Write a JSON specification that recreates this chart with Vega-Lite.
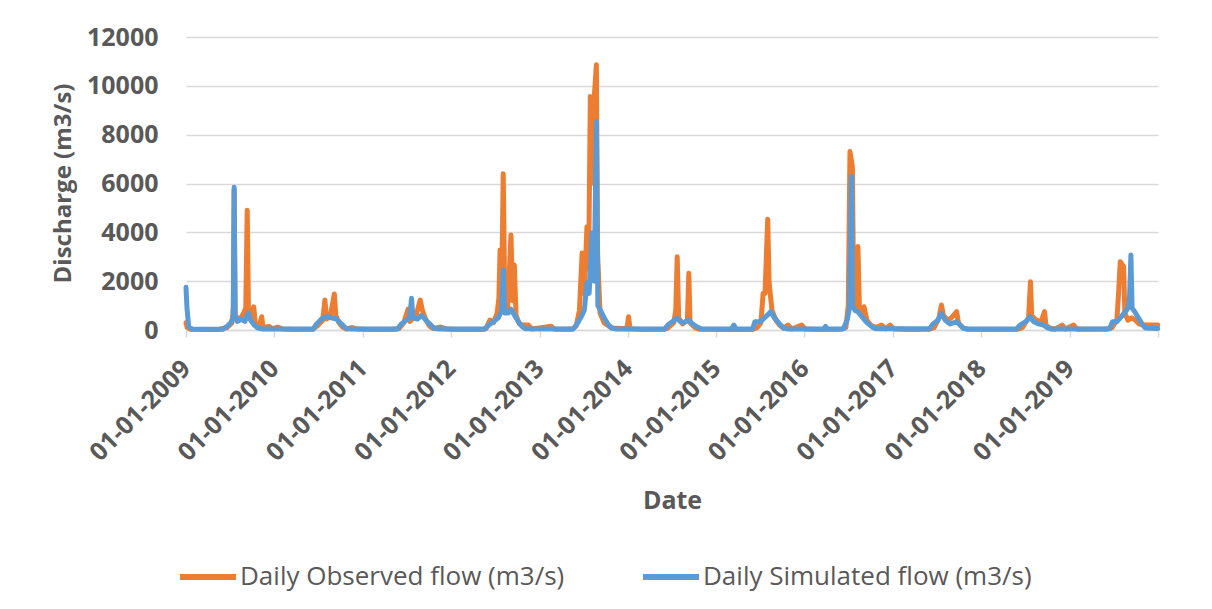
{
  "$schema": "https://vega.github.io/schema/vega-lite/v6.json",
  "width": 972,
  "height": 293,
  "autosize": {"type": "none"},
  "padding": {"left": 186, "top": 37, "right": 54, "bottom": 279},
  "background": "white",
  "datasets": {
    "obs": [
      {"d":"2009-01-01","q":300},{"d":"2009-01-06","q":100},{"d":"2009-01-20","q":30},{"d":"2009-03-01","q":20},{"d":"2009-05-15","q":20},{"d":"2009-06-20","q":100},{"d":"2009-07-10","q":300},{"d":"2009-07-16","q":900},{"d":"2009-07-19","q":5750},{"d":"2009-07-23","q":600},{"d":"2009-08-10","q":400},{"d":"2009-08-25","q":650},{"d":"2009-09-05","q":900},{"d":"2009-09-11","q":4900},{"d":"2009-09-16","q":900},{"d":"2009-09-28","q":600},{"d":"2009-10-08","q":950},{"d":"2009-10-14","q":300},{"d":"2009-10-30","q":150},{"d":"2009-11-10","q":545},{"d":"2009-11-15","q":100},{"d":"2009-12-10","q":150},{"d":"2009-12-25","q":60},
      {"d":"2010-01-15","q":120},{"d":"2010-02-05","q":40},{"d":"2010-04-01","q":20},{"d":"2010-06-10","q":30},{"d":"2010-07-01","q":200},{"d":"2010-07-20","q":400},{"d":"2010-07-29","q":1230},{"d":"2010-08-05","q":450},{"d":"2010-08-20","q":550},{"d":"2010-09-06","q":1475},{"d":"2010-09-12","q":600},{"d":"2010-09-25","q":300},{"d":"2010-10-10","q":120},{"d":"2010-10-25","q":40},{"d":"2010-11-20","q":100},{"d":"2010-12-10","q":40},
      {"d":"2011-02-01","q":20},{"d":"2011-05-01","q":20},{"d":"2011-06-01","q":60},{"d":"2011-06-20","q":300},{"d":"2011-07-08","q":860},{"d":"2011-07-15","q":350},{"d":"2011-08-10","q":600},{"d":"2011-08-27","q":1230},{"d":"2011-09-05","q":800},{"d":"2011-09-20","q":400},{"d":"2011-10-05","q":150},{"d":"2011-10-20","q":60},{"d":"2011-11-20","q":120},{"d":"2011-12-15","q":40},
      {"d":"2012-02-01","q":20},{"d":"2012-05-10","q":20},{"d":"2012-05-25","q":60},{"d":"2012-06-10","q":410},{"d":"2012-06-25","q":300},{"d":"2012-07-10","q":700},{"d":"2012-07-17","q":1300},{"d":"2012-07-22","q":3280},{"d":"2012-07-28","q":1000},{"d":"2012-08-04","q":6400},{"d":"2012-08-10","q":1500},{"d":"2012-08-22","q":800},{"d":"2012-09-05","q":3890},{"d":"2012-09-12","q":1200},{"d":"2012-09-19","q":2660},{"d":"2012-09-26","q":600},{"d":"2012-10-10","q":250},{"d":"2012-10-25","q":200},{"d":"2012-11-16","q":200},{"d":"2012-12-01","q":40},
      {"d":"2013-02-19","q":150},{"d":"2013-03-05","q":30},{"d":"2013-05-15","q":30},{"d":"2013-06-01","q":150},{"d":"2013-06-15","q":800},{"d":"2013-06-26","q":3150},{"d":"2013-07-05","q":1500},{"d":"2013-07-16","q":4230},{"d":"2013-07-23","q":2500},{"d":"2013-07-30","q":9560},{"d":"2013-08-05","q":6000},{"d":"2013-08-15","q":9500},{"d":"2013-08-24","q":10860},{"d":"2013-08-29","q":3150},{"d":"2013-09-08","q":700},{"d":"2013-09-25","q":300},{"d":"2013-10-15","q":150},{"d":"2013-11-01","q":80},{"d":"2013-12-28","q":50},
      {"d":"2014-01-04","q":545},{"d":"2014-01-10","q":50},{"d":"2014-03-01","q":20},{"d":"2014-06-01","q":30},{"d":"2014-06-15","q":80},{"d":"2014-07-10","q":300},{"d":"2014-07-18","q":800},{"d":"2014-07-24","q":3000},{"d":"2014-07-30","q":500},{"d":"2014-08-15","q":250},{"d":"2014-09-04","q":400},{"d":"2014-09-10","q":2320},{"d":"2014-09-15","q":300},{"d":"2014-10-05","q":100},{"d":"2014-10-25","q":30},
      {"d":"2015-02-01","q":20},{"d":"2015-06-01","q":20},{"d":"2015-06-20","q":100},{"d":"2015-07-05","q":300},{"d":"2015-07-14","q":1500},{"d":"2015-07-22","q":1500},{"d":"2015-08-02","q":4536},{"d":"2015-08-08","q":1900},{"d":"2015-08-20","q":800},{"d":"2015-09-05","q":400},{"d":"2015-09-20","q":200},{"d":"2015-10-05","q":80},{"d":"2015-10-25","q":200},{"d":"2015-11-10","q":40},{"d":"2015-12-20","q":200},
      {"d":"2016-01-05","q":40},{"d":"2016-03-01","q":20},{"d":"2016-06-01","q":30},{"d":"2016-06-20","q":100},{"d":"2016-06-30","q":1000},{"d":"2016-07-07","q":7307},{"d":"2016-07-17","q":6690},{"d":"2016-07-22","q":1500},{"d":"2016-08-02","q":800},{"d":"2016-08-09","q":3415},{"d":"2016-08-15","q":900},{"d":"2016-08-25","q":600},{"d":"2016-09-03","q":955},{"d":"2016-09-15","q":400},{"d":"2016-10-01","q":200},{"d":"2016-10-20","q":100},{"d":"2016-11-15","q":200},{"d":"2016-12-01","q":50},{"d":"2016-12-20","q":200},
      {"d":"2017-01-05","q":40},{"d":"2017-03-01","q":20},{"d":"2017-06-01","q":30},{"d":"2017-06-20","q":100},{"d":"2017-07-10","q":500},{"d":"2017-07-20","q":1025},{"d":"2017-07-28","q":600},{"d":"2017-08-15","q":400},{"d":"2017-08-30","q":500},{"d":"2017-09-21","q":750},{"d":"2017-09-28","q":300},{"d":"2017-10-15","q":100},{"d":"2017-11-05","q":30},
      {"d":"2018-03-01","q":20},{"d":"2018-06-01","q":30},{"d":"2018-06-20","q":100},{"d":"2018-07-15","q":500},{"d":"2018-07-23","q":1980},{"d":"2018-07-28","q":600},{"d":"2018-08-15","q":400},{"d":"2018-09-05","q":350},{"d":"2018-09-19","q":750},{"d":"2018-09-25","q":200},{"d":"2018-10-10","q":80},{"d":"2018-11-01","q":30},{"d":"2018-12-01","q":200},{"d":"2018-12-15","q":40},
      {"d":"2019-01-17","q":200},{"d":"2019-02-01","q":30},{"d":"2019-06-01","q":30},{"d":"2019-06-25","q":100},{"d":"2019-07-15","q":400},{"d":"2019-07-22","q":1500},{"d":"2019-07-29","q":2800},{"d":"2019-08-05","q":2700},{"d":"2019-08-12","q":2595},{"d":"2019-08-17","q":700},{"d":"2019-08-30","q":400},{"d":"2019-09-15","q":500},{"d":"2019-09-30","q":400},{"d":"2019-10-15","q":250},{"d":"2019-11-01","q":200},{"d":"2019-12-31","q":200}
    ],
    "sim": [
      {"d":"2009-01-01","q":1750},{"d":"2009-01-05","q":900},{"d":"2009-01-12","q":150},{"d":"2009-01-25","q":40},{"d":"2009-06-01","q":30},{"d":"2009-06-20","q":150},{"d":"2009-07-05","q":300},{"d":"2009-07-15","q":500},{"d":"2009-07-19","q":5850},{"d":"2009-07-23","q":600},{"d":"2009-08-01","q":350},{"d":"2009-08-15","q":450},{"d":"2009-09-01","q":350},{"d":"2009-09-15","q":700},{"d":"2009-09-25","q":400},{"d":"2009-10-10","q":200},{"d":"2009-10-25","q":80},{"d":"2009-11-15","q":40},
      {"d":"2010-06-10","q":40},{"d":"2010-06-25","q":250},{"d":"2010-07-15","q":450},{"d":"2010-08-05","q":550},{"d":"2010-08-25","q":500},{"d":"2010-09-15","q":450},{"d":"2010-10-05","q":250},{"d":"2010-10-25","q":60},{"d":"2010-11-15","q":40},
      {"d":"2011-05-25","q":40},{"d":"2011-06-10","q":250},{"d":"2011-06-30","q":400},{"d":"2011-07-15","q":500},{"d":"2011-07-22","q":1300},{"d":"2011-07-28","q":500},{"d":"2011-08-15","q":450},{"d":"2011-09-01","q":600},{"d":"2011-09-20","q":400},{"d":"2011-10-10","q":200},{"d":"2011-10-25","q":60},{"d":"2011-11-15","q":40},
      {"d":"2012-05-20","q":40},{"d":"2012-06-05","q":200},{"d":"2012-06-25","q":350},{"d":"2012-07-15","q":500},{"d":"2012-07-28","q":800},{"d":"2012-08-04","q":2460},{"d":"2012-08-10","q":700},{"d":"2012-08-25","q":700},{"d":"2012-09-05","q":850},{"d":"2012-09-20","q":600},{"d":"2012-10-05","q":350},{"d":"2012-10-20","q":150},{"d":"2012-11-05","q":50},
      {"d":"2013-05-20","q":40},{"d":"2013-06-05","q":250},{"d":"2013-06-20","q":500},{"d":"2013-07-05","q":800},{"d":"2013-07-16","q":1925},{"d":"2013-07-25","q":1500},{"d":"2013-08-06","q":3970},{"d":"2013-08-15","q":2000},{"d":"2013-08-24","q":8540},{"d":"2013-08-30","q":1000},{"d":"2013-09-10","q":800},{"d":"2013-09-25","q":500},{"d":"2013-10-10","q":250},{"d":"2013-10-25","q":80},{"d":"2013-11-15","q":40},
      {"d":"2014-06-01","q":40},{"d":"2014-06-15","q":200},{"d":"2014-07-05","q":350},{"d":"2014-07-23","q":490},{"d":"2014-08-05","q":350},{"d":"2014-08-20","q":300},{"d":"2014-09-09","q":410},{"d":"2014-09-25","q":250},{"d":"2014-10-15","q":120},{"d":"2014-11-01","q":50},
      {"d":"2015-03-05","q":40},{"d":"2015-03-15","q":200},{"d":"2015-03-25","q":40},{"d":"2015-06-01","q":50},{"d":"2015-06-10","q":340},{"d":"2015-06-30","q":340},{"d":"2015-07-15","q":450},{"d":"2015-08-05","q":650},{"d":"2015-08-14","q":750},{"d":"2015-08-30","q":500},{"d":"2015-09-20","q":250},{"d":"2015-10-07","q":80},{"d":"2015-10-25","q":40},
      {"d":"2016-03-20","q":40},{"d":"2016-03-28","q":150},{"d":"2016-04-05","q":40},{"d":"2016-06-10","q":50},{"d":"2016-06-25","q":400},{"d":"2016-07-05","q":900},{"d":"2016-07-13","q":6283},{"d":"2016-07-18","q":1000},{"d":"2016-07-28","q":800},{"d":"2016-08-08","q":750},{"d":"2016-08-25","q":550},{"d":"2016-09-15","q":300},{"d":"2016-10-10","q":100},{"d":"2016-10-25","q":50},
      {"d":"2017-06-01","q":50},{"d":"2017-06-15","q":250},{"d":"2017-07-05","q":400},{"d":"2017-07-20","q":680},{"d":"2017-08-05","q":400},{"d":"2017-08-25","q":250},{"d":"2017-09-22","q":340},{"d":"2017-10-05","q":200},{"d":"2017-10-21","q":60},{"d":"2017-11-10","q":40},
      {"d":"2018-05-25","q":40},{"d":"2018-06-10","q":200},{"d":"2018-07-05","q":350},{"d":"2018-07-21","q":545},{"d":"2018-08-05","q":350},{"d":"2018-08-25","q":250},{"d":"2018-09-15","q":200},{"d":"2018-09-30","q":100},{"d":"2018-10-15","q":40},
      {"d":"2019-06-15","q":50},{"d":"2019-06-27","q":340},{"d":"2019-07-15","q":340},{"d":"2019-07-29","q":500},{"d":"2019-08-15","q":700},{"d":"2019-08-30","q":900},{"d":"2019-09-05","q":1200},{"d":"2019-09-11","q":3074},{"d":"2019-09-16","q":900},{"d":"2019-09-30","q":700},{"d":"2019-10-15","q":450},{"d":"2019-10-30","q":200},{"d":"2019-11-10","q":80},{"d":"2019-12-31","q":60}
    ]
  },
  "encoding": {
    "x": {
      "field": "d",
      "type": "temporal",
      "scale": {
        "type": "utc",
        "domain": [{"year": 2009, "month": 1, "date": 1, "utc": true}, {"year": 2020, "month": 1, "date": 1, "utc": true}],
        "nice": false
      },
      "axis": {
        "title": "Date",
        "values": [
          {"year": 2009, "month": 1, "date": 1, "utc": true},
          {"year": 2010, "month": 1, "date": 1, "utc": true},
          {"year": 2011, "month": 1, "date": 1, "utc": true},
          {"year": 2012, "month": 1, "date": 1, "utc": true},
          {"year": 2013, "month": 1, "date": 1, "utc": true},
          {"year": 2014, "month": 1, "date": 1, "utc": true},
          {"year": 2015, "month": 1, "date": 1, "utc": true},
          {"year": 2016, "month": 1, "date": 1, "utc": true},
          {"year": 2017, "month": 1, "date": 1, "utc": true},
          {"year": 2018, "month": 1, "date": 1, "utc": true},
          {"year": 2019, "month": 1, "date": 1, "utc": true},
          {"year": 2020, "month": 1, "date": 1, "utc": true}
        ],
        "labelExpr": "utcyear(datum.value) >= 2020 ? '' : utcFormat(datum.value, '%d-%m-%Y')",
        "labelAngle": -45,
        "labelAlign": "right",
        "labelBaseline": "middle",
        "labelFont": "Open Sans",
        "labelFontWeight": "bold",
        "labelFontSize": 25,
        "labelColor": "#595959",
        "labelPadding": 27,
        "labelOverlap": false,
        "labelBound": false,
        "labelFlush": false,
        "grid": false,
        "ticks": true,
        "tickSize": 7,
        "tickWidth": 1.5,
        "tickColor": "#d9d9d9",
        "domain": true,
        "domainColor": "#d9d9d9",
        "domainWidth": 1.5,
        "titleFont": "Open Sans",
        "titleFontWeight": "bold",
        "titleFontSize": 25,
        "titleColor": "#595959",
        "titleBaseline": "alphabetic",
        "titleY": 178,
        "titleX": 486
      }
    },
    "y": {
      "field": "q",
      "type": "quantitative",
      "scale": {"domain": [0, 12000], "nice": false},
      "axis": {
        "title": "Discharge (m3/s)",
        "values": [0, 2000, 4000, 6000, 8000, 10000, 12000],
        "format": "d",
        "labelFont": "Open Sans",
        "labelFontWeight": "bold",
        "labelFontSize": 25,
        "labelColor": "#595959",
        "labelPadding": 28,
        "ticks": false,
        "domain": false,
        "grid": true,
        "gridColor": "#d9d9d9",
        "gridWidth": 1.5,
        "titleFont": "Open Sans",
        "titleFontWeight": "bold",
        "titleFontSize": 24,
        "titleColor": "#595959",
        "titleAngle": -90,
        "titleBaseline": "alphabetic",
        "titleAlign": "center",
        "titleX": -116,
        "titleY": 146
      }
    }
  },
  "layer": [
    {
      "data": {"name": "obs"},
      "mark": {"type": "line", "strokeWidth": 5, "strokeJoin": "round", "strokeCap": "round"},
      "encoding": {"color": {"datum": "Daily Observed flow (m3/s)"}}
    },
    {
      "data": {"name": "sim"},
      "mark": {"type": "line", "strokeWidth": 5, "strokeJoin": "round", "strokeCap": "round"},
      "encoding": {"color": {"datum": "Daily Simulated flow (m3/s)"}}
    }
  ],
  "resolve": {"scale": {"color": "shared"}},
  "config": {
    "view": {"stroke": null},
    "range": {"category": ["#ED7D31", "#5B9BD5"]},
    "legend": {
      "orient": "none",
      "legendX": -9,
      "legendY": 509,
      "direction": "horizontal",
      "title": null,
      "symbolType": "stroke",
      "symbolSize": 3136,
      "symbolStrokeWidth": 6,
      "labelFont": "Open Sans",
      "labelFontSize": 26,
      "labelColor": "#595959",
      "labelOffset": 1,
      "labelLimit": 1000,
      "columnPadding": 66,
      "padding": 0
    }
  }
}
